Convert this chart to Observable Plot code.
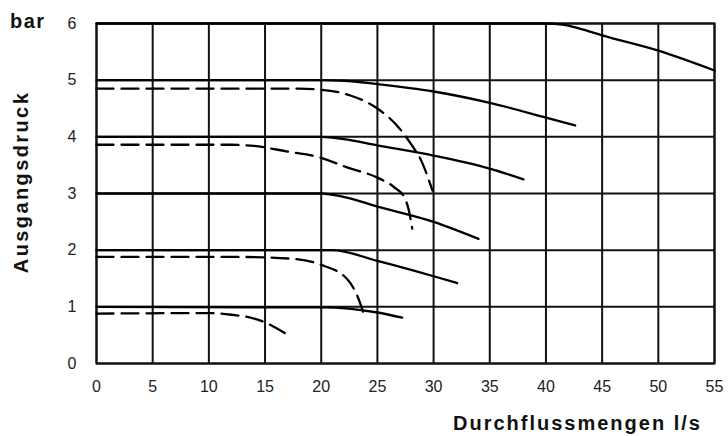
<!DOCTYPE html>
<html>
<head>
<meta charset="utf-8">
<script src="https://cdn.jsdelivr.net/npm/d3@7"></script>
<script src="https://cdn.jsdelivr.net/npm/@observablehq/plot@0.6"></script>
<style>
  html, body { margin: 0; padding: 0; background: #fff; }
  svg { display: block; }
</style>
</head>
<body>
<div id="chart"></div>
<script>
// Axis ticks
const xTicks = [0, 5, 10, 15, 20, 25, 30, 35, 40, 45, 50, 55];
const yTicks = [0, 1, 2, 3, 4, 5, 6];

// Solid curves (flow l/s, pressure bar)
const flow6 = [0, 40, 41.5, 43, 45, 50, 55];
const pres6 = [6, 6, 5.98, 5.91, 5.79, 5.52, 5.17];
const flow5 = [0, 20, 22, 25, 30, 35, 40, 42.6];
const pres5 = [5, 5, 4.99, 4.93, 4.8, 4.6, 4.34, 4.2];
const flow4 = [0, 20, 22, 25, 30, 35, 38];
const pres4 = [4, 4, 3.96, 3.85, 3.67, 3.44, 3.25];
const flow3 = [0, 20, 22, 25, 30, 34];
const pres3 = [3, 3, 2.94, 2.77, 2.5, 2.2];
const flow2 = [0, 21, 25, 30, 32.1];
const pres2 = [2, 2, 1.81, 1.54, 1.42];
const flow1 = [0, 20, 25, 27.2];
const pres1 = [1, 0.99, 0.9, 0.81];

// Dashed curves
const flowD5 = [0, 18, 20, 22.6, 25, 27, 28, 28.9, 29.9];
const presD5 = [4.85, 4.85, 4.83, 4.73, 4.5, 4.14, 3.87, 3.58, 3.05];
const flowD4 = [0, 12, 14, 17, 20, 22.3, 25, 26.5, 27.4, 27.8, 28.1];
const presD4 = [3.86, 3.86, 3.84, 3.74, 3.63, 3.46, 3.28, 3.11, 2.93, 2.7, 2.38];
const flowD2 = [0, 13, 17.3, 20, 22.3, 23.2, 23.8];
const presD2 = [1.88, 1.88, 1.85, 1.74, 1.49, 1.2, 0.87];
const flowD1 = [0, 10, 12, 13.7, 15.5, 16.8];
const presD1 = [0.88, 0.89, 0.86, 0.81, 0.68, 0.53];

const solidSeries = [
  ["6", flow6, pres6], ["5", flow5, pres5], ["4", flow4, pres4],
  ["3", flow3, pres3], ["2", flow2, pres2], ["1", flow1, pres1]
];
const dashedSeries = [
  ["d5", flowD5, presD5], ["d4", flowD4, presD4],
  ["d2", flowD2, presD2], ["d1", flowD1, presD1]
];
const toRows = (list) => list.flatMap(([s, xs, ys]) => xs.map((x, i) => ({s, x, y: ys[i]})));
const solidRows = toRows(solidSeries);
const dashedRows = toRows(dashedSeries);

const chart = Plot.plot({
  width: 728,
  height: 436,
  marginLeft: 96,
  marginRight: 14,
  marginTop: 23,
  marginBottom: 73,
  style: {fontFamily: "'Liberation Sans', Arial, sans-serif", fontSize: "16px", color: "#222", background: "#fff"},
  x: {domain: [0, 55], ticks: xTicks, tickSize: 0, tickPadding: 17, label: null, tickFormat: d => String(d)},
  y: {domain: [0, 6], ticks: yTicks, tickSize: 0, tickPadding: 20, label: null, tickFormat: d => String(d)},
  marks: [
    Plot.ruleX(xTicks, {stroke: "#111", strokeWidth: 2}),
    Plot.ruleY(yTicks, {stroke: "#111", strokeWidth: 2}),
    Plot.frame({stroke: "#111", strokeWidth: 2}),
    Plot.line(solidRows, {x: "x", y: "y", z: "s", stroke: "#000", strokeWidth: 2.3, curve: "monotone-x"}),
    Plot.line(dashedRows, {x: "x", y: "y", z: "s", stroke: "#000", strokeWidth: 2.3, strokeDasharray: "17,8", curve: "monotone-x"})
  ]
});

const svg = d3.select(chart);
svg.append("text")
  .attr("x", 10).attr("y", 28)
  .attr("text-anchor", "start")
  .attr("font-weight", "bold").attr("font-size", 20).attr("letter-spacing", "1.5px")
  .attr("fill", "#111")
  .text("bar");
svg.append("text")
  .attr("transform", "translate(28,182) rotate(-90)")
  .attr("text-anchor", "middle")
  .attr("font-weight", "bold").attr("font-size", 20).attr("letter-spacing", "2.4px")
  .attr("fill", "#111")
  .text("Ausgangsdruck");
svg.append("text")
  .attr("x", 453).attr("y", 430)
  .attr("text-anchor", "start")
  .attr("font-weight", "bold").attr("font-size", 20).attr("letter-spacing", "2px")
  .attr("fill", "#111")
  .text("Durchflussmengen l/s");

document.getElementById("chart").appendChild(chart);
</script>
</body>
</html>
